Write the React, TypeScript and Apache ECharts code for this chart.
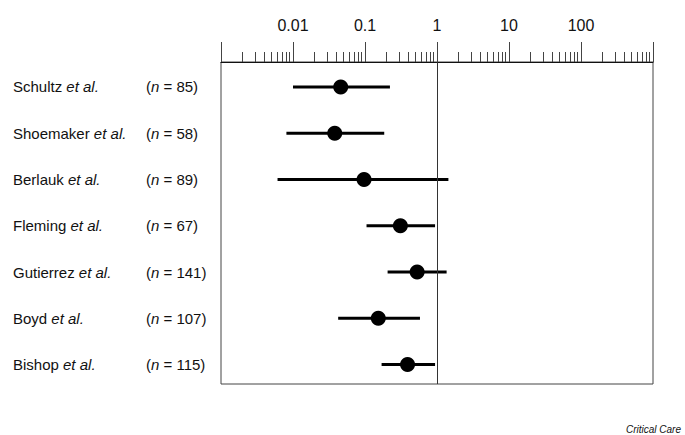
import React, { useEffect, useRef } from "react";
import * as echarts from "echarts";

// Study names, sample sizes, point estimates and 95% CI bounds
const studies = ["Schultz", "Shoemaker", "Berlauk", "Fleming", "Gutierrez", "Boyd", "Bishop"];
const sampleSizes = [85, 58, 89, 67, 141, 107, 115];
const estimates = [0.046, 0.038, 0.097, 0.31, 0.53, 0.153, 0.39];
const lowerCI = [0.01, 0.0081, 0.0061, 0.105, 0.206, 0.0424, 0.17];
const upperCI = [0.222, 0.185, 1.44, 0.94, 1.36, 0.58, 0.94];
const tickLabels = ["0.01", "0.1", "1", "10", "100"];
const tickLabelValues = [0.01, 0.1, 1, 10, 100];
const decades = [0.001, 0.01, 0.1, 1, 10, 100];
const minorMultipliers = [2, 3, 4, 5, 6, 7, 8, 9];
const sourceText = "Critical Care";

const FONT = "'Liberation Sans', Arial, Helvetica, sans-serif";

export default function App() {
  const ref = useRef<HTMLDivElement>(null);
  useEffect(() => {
    if (!ref.current) return;
    const chart = echarts.init(ref.current, undefined, { renderer: "svg" });
    const rowIdx = studies.map((_, i) => i);
    const minorTicks: number[] = [];
    decades.forEach((d) => minorMultipliers.forEach((m) => minorTicks.push(+(d * m).toPrecision(6))));

    const yCommon = {
      type: "value" as const,
      inverse: true,
      min: -0.54,
      max: 6.42,
      axisLine: { show: false, onZero: false },
      axisTick: { show: false },
      splitLine: { show: false },
    };

    chart.setOption({
      animation: false,
      grid: {
        left: 221,
        right: 32,
        top: 62,
        bottom: 51,
        show: true,
        borderColor: "#444",
        borderWidth: 1,
        backgroundColor: "transparent",
      },
      xAxis: [
        {
          type: "log",
          logBase: 10,
          position: "top",
          min: 0.001,
          max: 1000,
          splitNumber: 6,
          axisLine: { show: true, onZero: false, lineStyle: { color: "#111", width: 1 } },
          axisTick: { show: true, inside: false, length: 20, lineStyle: { color: "#444", width: 1 } },
          axisLabel: {
            show: true,
            margin: 29,
            fontSize: 16,
            fontFamily: FONT,
            color: "#111",
            customValues: tickLabelValues,
            formatter: (v: number) => {
              const idx = tickLabelValues.findIndex((t) => Math.abs(Math.log10(t) - Math.log10(v)) < 1e-6);
              return idx >= 0 ? tickLabels[idx] : "";
            },
          },
          splitLine: { show: false },
        },
        {
          type: "log",
          logBase: 10,
          position: "top",
          min: 0.001,
          max: 1000,
          axisLine: { show: false, onZero: false },
          axisTick: {
            show: true,
            inside: false,
            length: 10,
            customValues: minorTicks,
            lineStyle: { color: "#444", width: 1 },
          },
          axisLabel: { show: false },
          splitLine: { show: false },
        },
      ],
      yAxis: [
        {
          ...yCommon,
          axisLabel: {
            show: true,
            customValues: rowIdx,
            align: "left",
            margin: 208,
            formatter: (v: number) => `{a|${studies[Math.round(v)]} }{i|et al.}`,
            rich: {
              a: { fontSize: 15, fontFamily: FONT, color: "#111" },
              i: { fontSize: 15, fontFamily: FONT, color: "#111", fontStyle: "italic" },
            },
          },
        },
        {
          ...yCommon,
          position: "left",
          axisLabel: {
            show: true,
            customValues: rowIdx,
            align: "left",
            margin: 75,
            formatter: (v: number) => `{a|(}{i|n}{a| = ${sampleSizes[Math.round(v)]})}`,
            rich: {
              a: { fontSize: 15, fontFamily: FONT, color: "#111" },
              i: { fontSize: 15, fontFamily: FONT, color: "#111", fontStyle: "italic" },
            },
          },
        },
      ],
      series: [
        {
          type: "custom",
          xAxisIndex: 0,
          yAxisIndex: 0,
          data: rowIdx.map((i) => [lowerCI[i], upperCI[i], i]),
          encode: { x: [0, 1], y: 2 },
          renderItem: (params: any, api: any) => {
            const p1 = api.coord([api.value(0), api.value(2)]);
            const p2 = api.coord([api.value(1), api.value(2)]);
            return {
              type: "line",
              shape: { x1: p1[0], y1: p1[1], x2: p2[0], y2: p2[1] },
              style: { stroke: "#000", lineWidth: 3 },
            };
          },
          silent: true,
          z: 3,
        },
        {
          type: "scatter",
          xAxisIndex: 0,
          yAxisIndex: 0,
          data: rowIdx.map((i) => [estimates[i], i]),
          symbol: "circle",
          symbolSize: 15,
          itemStyle: { color: "#000", opacity: 1 },
          silent: true,
          z: 4,
          markLine: {
            silent: true,
            symbol: "none",
            label: { show: false },
            lineStyle: { color: "#333", width: 1, type: "solid" },
            data: [{ xAxis: 1 }],
          },
        },
      ],
      graphic: [
        {
          type: "text",
          right: 4,
          top: 424,
          style: {
            text: sourceText,
            fontSize: 10,
            fontStyle: "italic",
            fontFamily: FONT,
            fill: "#111",
          },
        },
      ],
    });
    return () => chart.dispose();
  }, []);
  return (
    <div
      ref={ref}
      style={{ position: "absolute", left: 0, top: 0, width: 685, height: 435, background: "#fff" }}
    />
  );
}
